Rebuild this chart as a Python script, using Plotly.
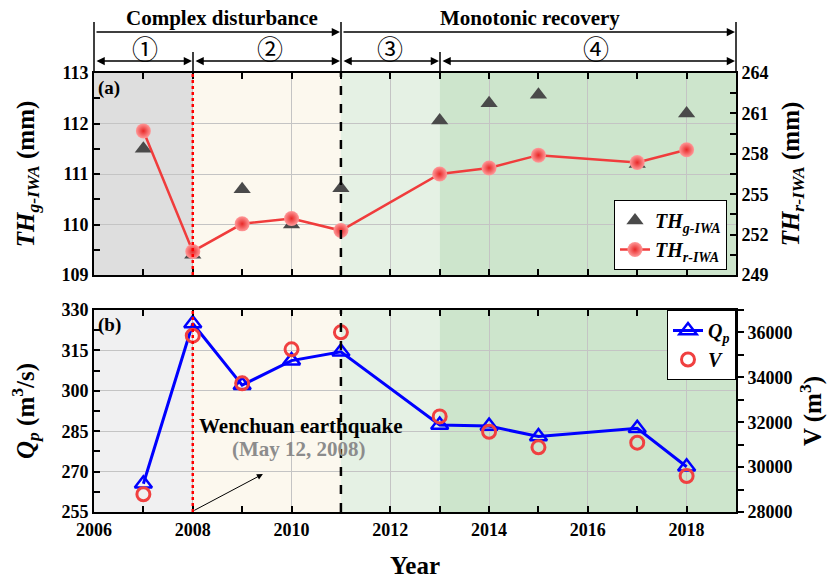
import plotly.graph_objects as go

years = [2007, 2008, 2009, 2010, 2011, 2013, 2014, 2015, 2017, 2018]
th_g = [111.5, 109.4, 110.7, 110.0, 110.72, 112.06, 112.4, 112.57, 111.2, 112.2]
th_r = [259.7, 250.75, 252.8, 253.2, 252.3, 256.5, 256.95, 257.9, 257.35, 258.3]
q_p = [265.5, 325.0, 302.1, 311.2, 314.5, 287.3, 286.9, 283.0, 286.1, 271.8]
vol = [28790, 35855, 33733, 35248, 36006, 32260, 31577, 30882, 31087, 29604]

x_ticks = [2006, 2008, 2010, 2012, 2014, 2016, 2018]
x_ticktext = ["<b>%d</b>" % v for v in x_ticks]

FONT = "Liberation Serif"
fig = go.Figure()

fig.add_trace(go.Scatter(
    x=years, y=th_g, mode="markers", name="<b><i>TH</i><sub><i>g-IWA</i></sub></b>",
    marker=dict(symbol="triangle-up", size=15, color="#4a4a4a"),
    xaxis="x", yaxis="y", legend="legend"))
fig.add_trace(go.Scatter(
    x=years, y=th_r, mode="lines+markers", name="<b><i>TH</i><sub><i>r-IWA</i></sub></b>",
    line=dict(color="#f03c3c", width=2.5),
    marker=dict(symbol="circle", size=15, color="#ff9a9a",
                gradient=dict(type="radial", color="#e82828"),
                line=dict(width=0)),
    xaxis="x", yaxis="y2", legend="legend"))
fig.add_trace(go.Scatter(
    x=years, y=q_p, mode="lines+markers", name="<b><i>Q</i><sub><i>p</i></sub></b>",
    line=dict(color="#0000ff", width=3),
    marker=dict(symbol="triangle-up-open", size=15, color="#0000ff", line=dict(width=2.5)),
    xaxis="x2", yaxis="y3", legend="legend2"))
fig.add_trace(go.Scatter(
    x=years, y=vol, mode="markers", name="<b><i>V</i></b>",
    marker=dict(symbol="circle-open", size=13, color="#f04040", line=dict(width=3)),
    xaxis="x2", yaxis="y4", legend="legend2"))

def py(p):
    return (512 - p) / 439.0

def px(p):
    return (p - 94) / 642.0

# background shading
regions_top = [(2006, 2008, "#dedede"), (2008, 2011, "#fcf8ee"), (2011, 2013, "#e5f1e4"), (2013, 2019, "#cde5cc")]
regions_bot = [(2006, 2008, "#f0f0f1"), (2008, 2011, "#fcf8ee"), (2011, 2013, "#e5f1e4"), (2013, 2019, "#cde5cc")]
shapes = []
for x0, x1, c in regions_top:
    shapes.append(dict(type="rect", xref="x", yref="y", x0=x0, x1=x1, y0=109, y1=113,
                       fillcolor=c, line=dict(width=0), layer="below"))
for x0, x1, c in regions_bot:
    shapes.append(dict(type="rect", xref="x2", yref="y3", x0=x0, x1=x1, y0=255, y1=330,
                       fillcolor=c, line=dict(width=0), layer="below"))
for xr, yr, ya, yb in [("x", "y", 109, 113), ("x2", "y3", 255, 330)]:
    shapes.append(dict(type="line", xref=xr, yref=yr, x0=2008, x1=2008, y0=ya, y1=yb,
                       line=dict(color="#ff0000", width=2.5, dash="dot"), layer="above"))
    shapes.append(dict(type="line", xref=xr, yref=yr, x0=2011, x1=2011, y0=ya, y1=yb,
                       line=dict(color="#000000", width=2.5, dash="dash"), layer="above"))

# header lines (paper coords)
for xp in [94, 341, 736]:
    shapes.append(dict(type="line", xref="paper", yref="paper", x0=px(xp), x1=px(xp), y0=py(73), y1=py(22),
                       line=dict(color="black", width=1.5)))
for xp in [193, 440]:
    shapes.append(dict(type="line", xref="paper", yref="paper", x0=px(xp), x1=px(xp), y0=py(73), y1=py(52),
                       line=dict(color="black", width=1.5)))

annotations = []
def harrow(x0, x1, yp, both):
    # x0, x1 in pixels
    annotations.append(dict(xref="paper", yref="paper", x=px(x1), y=py(yp), axref="pixel", ayref="pixel",
                            ax=-(x1 - x0), ay=0.0001, text="", showarrow=True, arrowhead=2, arrowsize=1.1,
                            arrowwidth=1.5, arrowcolor="black", standoff=0, startstandoff=0,
                            arrowside="end+start" if both else "end"))

harrow(95, 340, 32, False)
harrow(342, 735, 32, False)
harrow(95, 192, 61, True)
harrow(194, 340, 61, True)
harrow(342, 439, 61, True)
harrow(441, 735, 61, True)

annotations.append(dict(xref="paper", yref="paper", x=px(222), y=py(18), xanchor="center", yanchor="middle",
                        text="<b>Complex disturbance</b>",
                        showarrow=False, font=dict(family=FONT, size=21, color="black")))
annotations.append(dict(xref="paper", yref="paper", x=px(530), y=py(18), xanchor="center", yanchor="middle",
                        text="<b>Monotonic recovery</b>",
                        showarrow=False, font=dict(family=FONT, size=21, color="black")))
for xc, t in [(145, "①"), (270, "②"), (390, "③"), (596, "④")]:
    annotations.append(dict(xref="paper", yref="paper", x=px(xc), y=py(47), xanchor="center", yanchor="middle",
                            text=t, showarrow=False,
                            font=dict(family="Noto Sans CJK JP", size=26, color="black")))

annotations.append(dict(xref="paper", yref="paper", x=0.003, y=py(88), xanchor="left", yanchor="middle",
                        text="<b>(a)</b>", showarrow=False, font=dict(family=FONT, size=19, color="black")))
annotations.append(dict(xref="paper", yref="paper", x=0.003, y=py(325), xanchor="left", yanchor="middle",
                        text="<b>(b)</b>", showarrow=False, font=dict(family=FONT, size=19, color="black")))

annotations.append(dict(xref="x2", yref="y3", x=2010.2, y=330 - (426 - 310) / 2.693,
                        text="<b>Wenchuan earthquake</b>", showarrow=False, xanchor="center",
                        font=dict(family=FONT, size=21, color="black")))
annotations.append(dict(xref="x2", yref="y3", x=2010.15, y=330 - (449 - 310) / 2.693,
                        text="<b>(May 12, 2008)</b>", showarrow=False, xanchor="center",
                        font=dict(family=FONT, size=21, color="#8c8c8c")))
annotations.append(dict(xref="x2", yref="y3", x=2009.42, y=269.1, axref="x2", ayref="y3",
                        ax=2008.0, ay=255.3, text="", showarrow=True, arrowhead=2, arrowsize=1.2,
                        arrowwidth=1, arrowcolor="black"))

tickfont = dict(family=FONT, size=18, color="black")
titlefont = dict(family=FONT, size=25, color="black")

xcommon = dict(range=[2006, 2019], tickvals=x_ticks, ticktext=x_ticktext, ticks="inside", ticklen=6,
               tickwidth=1.5,
               tickcolor="black", showline=True, linecolor="black", linewidth=2, mirror="ticks",
               showgrid=True, gridcolor="#c4c4c4", gridwidth=1, zeroline=False, automargin=False,
               minor=dict(dtick=1, tick0=2006, ticks="inside", ticklen=6, tickwidth=1.5,
                          tickcolor="black", showgrid=False),
               tickfont=tickfont)

fig.update_layout(
    width=837, height=582,
    margin=dict(l=94, r=101, t=73, b=70),
    paper_bgcolor="white", plot_bgcolor="white",
    font=dict(family=FONT, color="black"),
    shapes=shapes, annotations=annotations,
    xaxis=dict(domain=[0, 1], anchor="y", showticklabels=False, **xcommon),
    xaxis2=dict(domain=[0, 1], anchor="y3",
                title=dict(text="<b>Year</b>", font=dict(family=FONT, size=25), standoff=18),
                **xcommon),
    yaxis=dict(domain=[py(275), 1], anchor="x", range=[109, 113], dtick=1, ticks="inside",
               ticklen=6, tickwidth=1.5, tickcolor="black", showline=True, linecolor="black",
               linewidth=2, showgrid=True, gridcolor="#c4c4c4", zeroline=False, automargin=False,
               minor=dict(dtick=0.5, ticks="inside", ticklen=6, tickwidth=1.5, tickcolor="black", showgrid=False),
               tickprefix="<b>", ticksuffix="</b>", tickfont=tickfont,
               title=dict(text="<b><i>TH</i><sub><i>g-IWA</i></sub> (mm)</b>", font=titlefont, standoff=20)),
    yaxis2=dict(overlaying="y", side="right", anchor="x", range=[249, 264], dtick=3, tick0=249,
                ticks="inside", ticklen=6, tickwidth=1.5, tickcolor="black", showline=True,
                linecolor="black", linewidth=2, showgrid=False, zeroline=False, automargin=False,
                minor=dict(dtick=1.5, ticks="inside", ticklen=6, tickwidth=1.5, tickcolor="black"),
                tickprefix="<b>", ticksuffix="</b>", tickfont=tickfont,
                title=dict(text="<b><i>TH</i><sub><i>r-IWA</i></sub> (mm)</b>", font=titlefont, standoff=14)),
    yaxis3=dict(domain=[0, py(310)], anchor="x2", range=[255, 330], dtick=15, tick0=255,
                ticks="inside", ticklen=6, tickwidth=1.5, tickcolor="black", showline=True,
                linecolor="black", linewidth=2, showgrid=True, gridcolor="#c4c4c4", zeroline=False,
                automargin=False,
                minor=dict(dtick=7.5, ticks="inside", ticklen=6, tickwidth=1.5, tickcolor="black", showgrid=False),
                tickprefix="<b>", ticksuffix="</b>", tickfont=tickfont,
                title=dict(text="<b><i>Q</i><sub><i>p</i></sub> (m<sup>3</sup>/s)</b>", font=titlefont, standoff=20)),
    yaxis4=dict(overlaying="y3", side="right", anchor="x2", range=[28000, 37000], dtick=2000, tick0=28000,
                ticks="outside", ticklen=6, tickwidth=1.5, tickcolor="black", showline=True,
                linecolor="black", linewidth=2, showgrid=False, zeroline=False, automargin=False,
                tickformat="d",
                minor=dict(dtick=1000, ticks="outside", ticklen=6, tickwidth=1.5, tickcolor="black"),
                tickprefix="<b>", ticksuffix="</b>", tickfont=tickfont,
                title=dict(text="<b>V (m<sup>3</sup>)</b>", font=titlefont, standoff=12)),
    legend=dict(x=px(727), xanchor="right", y=py(270), yanchor="bottom",
                bgcolor="white", bordercolor="black", borderwidth=1,
                font=dict(family=FONT, size=20, color="black"), tracegroupgap=0),
    legend2=dict(x=1.0, xanchor="right", y=py(310), yanchor="top",
                 bgcolor="white", bordercolor="black", borderwidth=1,
                 font=dict(family=FONT, size=20, color="black"), tracegroupgap=0),
    showlegend=True,
)

fig.write_html("out.html", post_script="document.body.style.margin='0';",
               config={"displayModeBar": False})
